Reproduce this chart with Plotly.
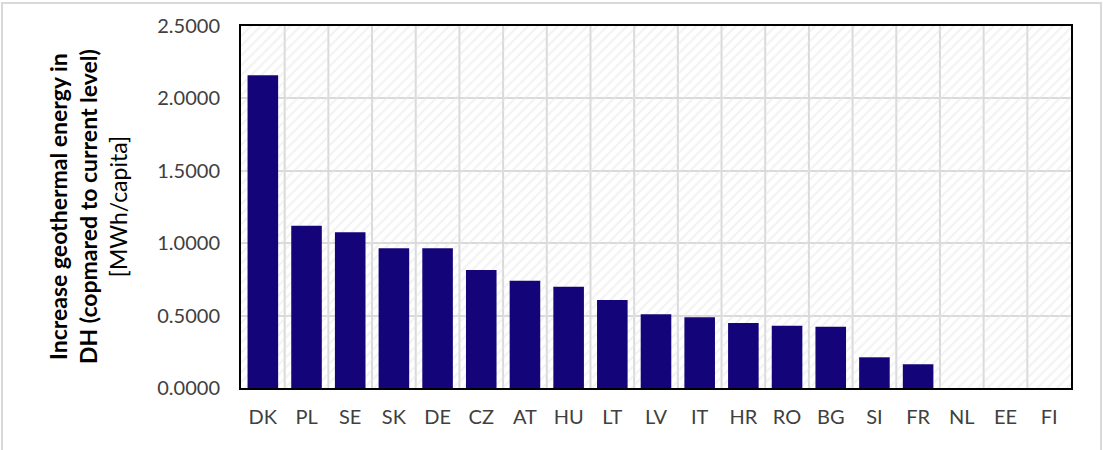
import plotly.graph_objects as go

countries = ["DK", "PL", "SE", "SK", "DE", "CZ", "AT", "HU", "LT", "LV",
             "IT", "HR", "RO", "BG", "SI", "FR", "NL", "EE", "FI"]
increase = [2.16, 1.12, 1.075, 0.965, 0.965, 0.815, 0.74, 0.70, 0.608, 0.509,
            0.488, 0.449, 0.43, 0.423, 0.212, 0.164, 0.0, 0.0, 0.0]
y_ticks = [0.0, 0.5, 1.0, 1.5, 2.0, 2.5]
y_max = 2.5

FONT = "Lato"
TXT = "#404040"

fig = go.Figure()

# hatched plot background (transparent fill with light diagonal pattern)
fig.add_trace(go.Bar(
    x=countries, y=[y_max] * len(countries), width=1.0,
    marker=dict(color="rgba(0,0,0,0)", line=dict(width=0),
                pattern=dict(shape="/", fgcolor="#e6e6e6", bgcolor="rgba(0,0,0,0)",
                             size=7, solidity=0.3, fillmode="overlay")),
    hoverinfo="skip", showlegend=False,
))

fig.add_trace(go.Bar(
    x=countries, y=increase, width=0.70,
    marker=dict(color="#14047a", line=dict(width=0)),
    showlegend=False,
))

fig.update_layout(
    width=1103, height=450,
    barmode="overlay",
    paper_bgcolor="white", plot_bgcolor="white",
    margin=dict(l=241, r=32, t=26, b=62, autoexpand=False),
    font=dict(family=FONT, color=TXT, size=20),
    xaxis=dict(
        type="category", showgrid=False, automargin=False,
        showline=True, linecolor="black", linewidth=2, mirror=True,
        ticks="", tickfont=dict(size=20, color=TXT), ticklabelstandoff=10,
    ),
    yaxis=dict(
        range=[0, y_max], tickvals=y_ticks, tickformat=".4f", automargin=False,
        showgrid=True, gridcolor="#d9d9d9", gridwidth=2,
        showline=True, linecolor="black", linewidth=2, mirror=True,
        ticks="", tickfont=dict(size=20, color=TXT), ticklabelstandoff=15,
        zeroline=False,
    ),
    shapes=[
        # outer light border of the chart area
        dict(type="rect", xref="paper", yref="paper",
             x0=(2 - 241) / 830, x1=(1101 - 241) / 830,
             y0=(388 - 470) / 362, y1=(388 - 3) / 362,
             line=dict(color="#d9d9d9", width=2), fillcolor="rgba(0,0,0,0)",
             layer="below"),
    ] + [
        # vertical gridlines at category boundaries
        dict(type="line", xref="x", yref="paper",
             x0=i + 0.5, x1=i + 0.5, y0=0, y1=1,
             line=dict(color="#d9d9d9", width=2), layer="below")
        for i in range(len(countries) - 1)
    ],
    annotations=[
        dict(text="<b>Increase geothermal energy in</b><br><b>DH (copmared to current level)</b><br>[MWh/capita]",
             xref="paper", yref="paper", x=(88 - 241) / 830, y=0.5,
             xanchor="center", yanchor="middle", textangle=-90,
             showarrow=False, font=dict(family=FONT, size=23, color="black")),
    ],
)

fig.write_html("out.html", config={"displayModeBar": False},
               post_script="document.body.style.margin='0px';")
